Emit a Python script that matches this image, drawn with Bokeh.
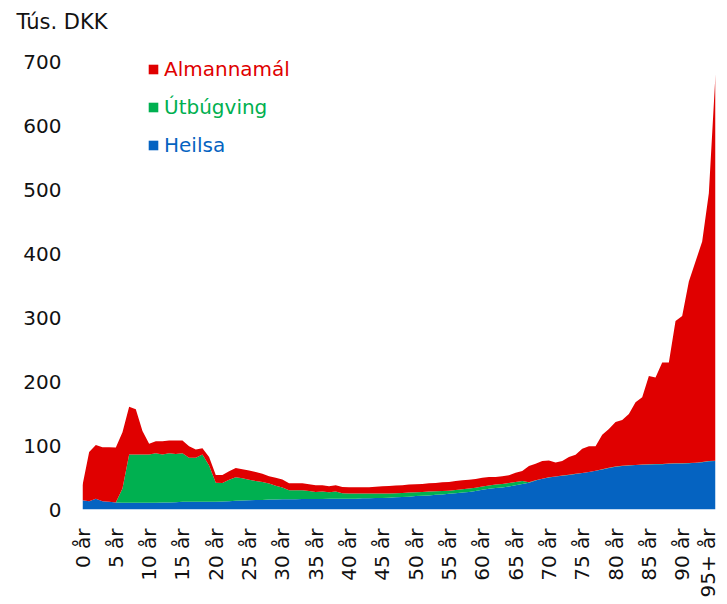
import math
from bokeh.plotting import figure
from bokeh.models import ColumnDataSource, Range1d, FixedTicker, Legend, LegendItem
from bokeh.embed import file_html
from bokeh.resources import INLINE

# ---- data (Tús. DKK per person by age) ----
ages = list(range(96))
tick_ages = list(range(0, 96, 5))
tick_labels = [f"{a} år" for a in range(0, 95, 5)] + ["95+ år"]
y_ticks = [0, 100, 200, 300, 400, 500, 600, 700]

series_names = ["Heilsa", "Útbúgving", "Almannamál"]
series_colors = ["#0563C1", "#00B050", "#E00000"]

heilsa = [14.5, 13, 17, 13, 12, 11, 10.5, 10.5, 10.5, 10.5,
          10.5, 10.5, 11, 11, 11.5, 12, 12, 12, 12, 12,
          12, 12.5, 13, 13.5, 14, 14.5, 15, 15, 15.5, 15.5,
          16, 16, 16, 16.5, 16.5, 16.5, 16.5, 17, 17, 17,
          17, 17, 17.5, 17.5, 18, 18, 18.5, 19, 19.5, 20,
          21, 21.5, 22, 23, 23.5, 24.5, 25.5, 26.5, 27.5, 29,
          31, 32.5, 33.5, 34.5, 36, 38, 40, 42, 45.5, 48,
          50, 51.5, 53, 54, 55.5, 57, 58.5, 60.5, 62.5, 65,
          67, 68, 69, 69.5, 70, 70.5, 71, 71, 71.5, 72,
          72, 72.5, 73, 74, 75.5, 76]

utbugving = [0, 0, 0, 0, 0, 0, 22.5, 75.5, 75.5, 75.5,
             75.5, 77.5, 75, 77, 75.5, 76, 69, 69, 74, 57,
             30, 29, 33.7, 37, 34.8, 32.2, 29.6, 28, 25, 21.5,
             18.3, 14, 14, 13.5, 12.5, 11, 11.5, 10, 11, 8.5,
             8, 8, 7.5, 7.5, 7, 7, 6.5, 6.5, 6.5, 6.5,
             6, 6, 6, 5.5, 5.5, 5, 5, 5, 5.2, 5,
             5, 5, 5.5, 5.5, 5.5, 5, 4.5, 0.5, 0.3, 0.3,
             0.3, 0.3, 0.3, 0.3, 0.3, 0.3, 0.3, 0.3, 0.3, 0.3,
             0.3, 0.3, 0.3, 0.3, 0.3, 0.3, 0.3, 0.3, 0.3, 0.3,
             0.3, 0.3, 0.3, 0.3, 0.3, 0.3]

almannamal = [23.5, 77, 84, 84.5, 85.5, 86, 88, 75, 71, 37,
              17, 19, 21, 20, 21, 20, 18, 13, 10, 13,
              12, 12.5, 13, 14.5, 14, 14.3, 14, 13, 11.5, 12.8,
              12.7, 11, 11, 11, 10.5, 10.5, 10, 9.3, 10, 9.8,
              9.8, 9.8, 9.8, 9.8, 10.8, 11.3, 11.9, 12, 12, 12.5,
              12.5, 12.5, 13, 13, 13.5, 13.5, 14.1, 14.1, 14, 13.8,
              13.5, 13.4, 12, 12, 12, 14.6, 15.7, 25.5, 25.8, 27.5,
              26.5, 21.9, 22.5, 27.7, 29.9, 37.7, 40.2, 38.2, 54, 60.7,
              69.7, 71.7, 80.2, 97.9, 105.2, 138.2, 135.3, 158.7, 158.2, 222.7,
              230.4, 284.2, 314.7, 345.2, 419, 605.4]

FONT = "DejaVu Sans"
TEXT = "#111111"

src = ColumnDataSource(dict(age=ages, heilsa=heilsa, utbugving=utbugving,
                            almannamal=almannamal))

# frame spans 40..511 px; 700 sits at ~62 px, so the range tops out a bit above 700
p = figure(width=719, height=600, output_backend="svg", toolbar_location=None,
           x_range=Range1d(0, 95), y_range=Range1d(0, 734),
           min_border_left=82, min_border_right=4, min_border_top=40,
           min_border_bottom=89, outline_line_color=None,
           background_fill_color="white", border_fill_color="white")

renderers = p.varea_stack(["heilsa", "utbugving", "almannamal"], x="age",
                          color=series_colors, source=src)

p.xgrid.visible = False
p.ygrid.visible = False

# y axis
yax = p.yaxis[0]
yax.ticker = FixedTicker(ticks=y_ticks)
yax.axis_line_color = None
yax.major_tick_line_color = None
yax.minor_tick_line_color = None
yax.major_tick_out = 0
yax.major_tick_in = 0
yax.major_label_standoff = 21
yax.major_label_text_font = FONT
yax.major_label_text_font_size = "20px"
yax.major_label_text_color = TEXT

# x axis
xax = p.xaxis[0]
xax.ticker = FixedTicker(ticks=tick_ages)
xax.major_label_overrides = {a: l for a, l in zip(tick_ages, tick_labels)}
xax.major_label_orientation = math.pi / 2
xax.axis_line_color = None
xax.major_tick_line_color = None
xax.minor_tick_line_color = None
xax.major_tick_out = 0
xax.major_tick_in = 0
xax.major_label_standoff = 19
xax.major_label_text_font = FONT
xax.major_label_text_font_size = "20px"
xax.major_label_text_color = TEXT

# title
p.title.text = "Tús. DKK"
p.title.text_font = FONT
p.title.text_font_size = "21px"
p.title.text_font_style = "normal"
p.title.text_color = TEXT
p.title.align = "left"
p.title.offset = -66
p.title.standoff = 13

# legends (one per entry so each label takes its series colour)
legend_pos = {"Almannamál": (65, 428), "Útbúgving": (65, 390), "Heilsa": (65, 352)}
for r, name, col in zip(renderers, series_names, series_colors):
    leg = Legend(items=[LegendItem(label=name, renderers=[r])],
                 location=legend_pos[name], border_line_color=None,
                 background_fill_alpha=0, padding=0, margin=0, spacing=0,
                 label_standoff=5, glyph_width=12, glyph_height=12,
                 label_width=130, label_height=24,
                 label_text_font=FONT, label_text_font_size="20px",
                 label_text_color=col)
    p.add_layout(leg)

open("out.html", "w").write(file_html(p, INLINE))
